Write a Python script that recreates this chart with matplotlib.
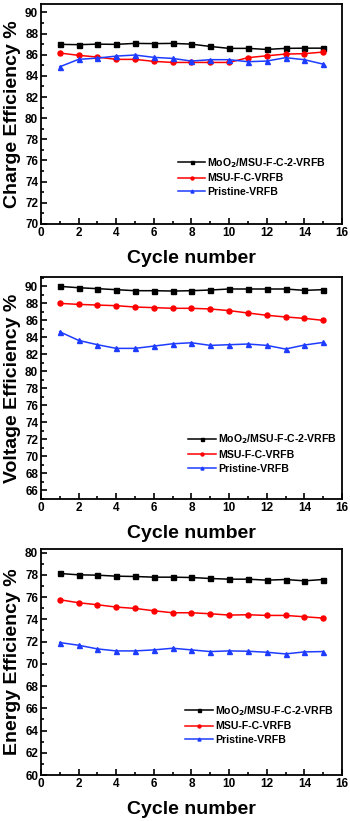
import numpy as np
import matplotlib
matplotlib.use('Agg')
import matplotlib.pyplot as plt
from matplotlib.ticker import MultipleLocator

plt.rcParams['font.family'] = ['Liberation Sans', 'DejaVu Sans']
plt.rcParams['font.weight'] = 'bold'

cycles = np.arange(1, 16)
labels = ['MoO$_\\mathbf{2}$/MSU-F-C-2-VRFB', 'MSU-F-C-VRFB', 'Pristine-VRFB']

# charge efficiency
ce_moo2 = [86.98, 86.95, 87.0, 86.98, 87.07, 87.05, 87.07, 87.0, 86.78, 86.6, 86.6, 86.5, 86.6, 86.62, 86.62]
ce_msu = [86.16, 85.94, 85.78, 85.56, 85.56, 85.37, 85.27, 85.27, 85.27, 85.27, 85.72, 85.9, 86.06, 86.1, 86.25]
ce_pri = [84.86, 85.56, 85.68, 85.87, 85.97, 85.75, 85.65, 85.4, 85.53, 85.53, 85.34, 85.4, 85.72, 85.53, 85.11]

# voltage efficiency
ve_moo2 = [90.0, 89.84, 89.73, 89.61, 89.49, 89.49, 89.45, 89.49, 89.57, 89.69, 89.69, 89.69, 89.69, 89.53, 89.61]
ve_msu = [88.0, 87.88, 87.8, 87.73, 87.57, 87.5, 87.42, 87.42, 87.34, 87.15, 86.87, 86.6, 86.4, 86.24, 86.0]
ve_pri = [84.66, 83.65, 83.14, 82.71, 82.71, 82.98, 83.25, 83.37, 83.06, 83.14, 83.22, 83.06, 82.63, 83.1, 83.41]

# energy efficiency
ee_moo2 = [78.12, 78.0, 77.97, 77.88, 77.85, 77.79, 77.79, 77.76, 77.67, 77.61, 77.61, 77.52, 77.58, 77.46, 77.58]
ee_msu = [75.76, 75.49, 75.31, 75.1, 74.98, 74.77, 74.59, 74.59, 74.5, 74.38, 74.41, 74.35, 74.35, 74.23, 74.11]
ee_pri = [71.91, 71.67, 71.34, 71.16, 71.16, 71.25, 71.4, 71.25, 71.1, 71.16, 71.13, 71.04, 70.89, 71.07, 71.1]

panels = [
    ('Charge Efficiency %', [ce_moo2, ce_msu, ce_pri], (70, 90.8), 70, 90,
     [0.117, 0.7272, 0.86, 0.268], (0.455, 0.31)),
    ('Voltage Efficiency %', [ve_moo2, ve_msu, ve_pri], (65, 91.1), 66, 90,
     [0.117, 0.3922, 0.86, 0.2704], (0.49, 0.30)),
    ('Energy Efficiency %', [ee_moo2, ee_msu, ee_pri], (60, 80.3), 60, 80,
     [0.117, 0.056, 0.86, 0.275], (0.48, 0.315)),
]

colors = ['black', '#ff0000', '#1e3cff']
markers = ['s', 'o', '^']

fig = plt.figure(figsize=(3.5, 8.21), dpi=100)

for ylabel, series, ylim, y0, y1, pos, leg_at in panels:
    ax = fig.add_axes(pos)
    for vals, c, m, lab in zip(series, colors, markers, labels):
        ax.plot(cycles, vals, color=c, marker=m, markersize=3.6, lw=1.1, label=lab)
    ax.set_xlim(0, 16)
    ax.set_ylim(*ylim)
    ax.set_xticks(np.arange(0, 17, 2))
    ax.set_yticks(np.arange(y0, y1 + 1, 2))
    ax.xaxis.set_minor_locator(MultipleLocator(1))
    ax.yaxis.set_minor_locator(MultipleLocator(1))
    ax.tick_params(which='both', direction='in', width=1.2, labelsize=8.5, pad=2)
    ax.tick_params(which='major', length=4)
    ax.tick_params(which='minor', length=2)
    for t in ax.get_xticklabels() + ax.get_yticklabels():
        t.set_fontweight('bold')
    for s in ax.spines.values():
        s.set_linewidth(1.3)
    ax.set_xlabel('Cycle number', fontsize=14, fontweight='bold', labelpad=8)
    ax.set_ylabel(ylabel, fontsize=14, fontweight='bold', labelpad=3)
    ax.legend(loc='upper left', bbox_to_anchor=leg_at, frameon=False,
              handlelength=2.6, handletextpad=0.2,
              labelspacing=0.35, borderpad=0, borderaxespad=0, markerscale=0.6,
              prop={'weight': 'bold', 'size': 7.6})

fig.savefig('out.png', dpi=100)
